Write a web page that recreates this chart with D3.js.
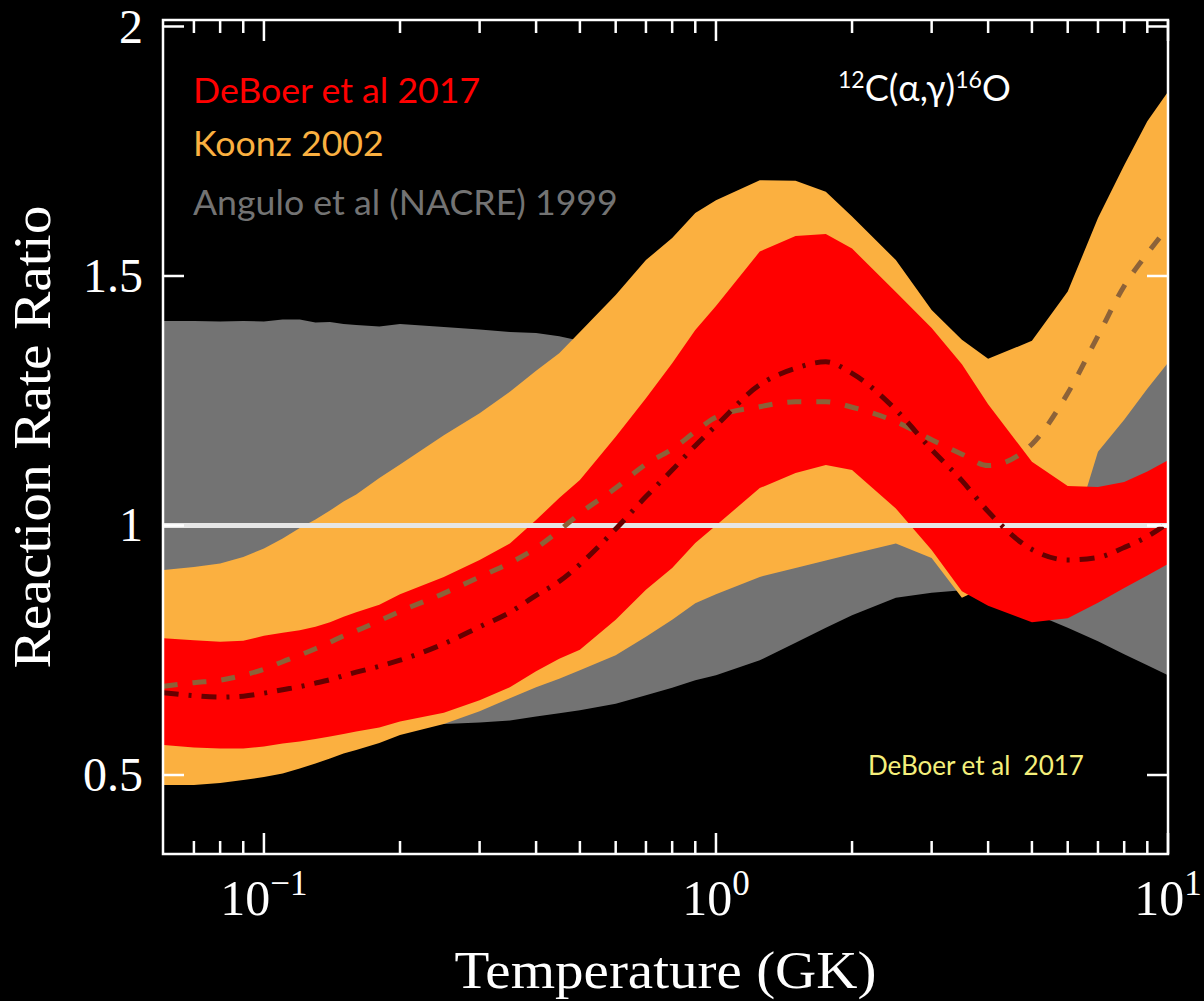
<!DOCTYPE html>
<html>
<head>
<meta charset="utf-8">
<script src="https://cdn.jsdelivr.net/npm/d3@7"></script>
<style>
  html, body { margin: 0; padding: 0; background: #000; }
  svg { display: block; }
</style>
</head>
<body>
<svg id="chart" width="1204" height="1001"></svg>
<script>
// Temperature grid (GK) on which the rate ratios are tabulated
const temperature = [0.06,0.07,0.08,0.09,0.1,0.11,0.12,0.13,0.14,0.15,0.16,0.18,0.2,0.25,0.3,0.35,0.4,0.45,0.5,0.6,0.7,0.8,0.9,1,1.25,1.5,1.75,2,2.5,3,3.5,4,5,6,7,8,9,10];

// DeBoer et al 2017: uncertainty band and recommended ratio
const deboerHigh = [0.774,0.770,0.767,0.769,0.779,0.785,0.790,0.797,0.806,0.817,0.826,0.841,0.862,0.897,0.931,0.964,1.011,1.055,1.091,1.178,1.255,1.325,1.392,1.440,1.549,1.580,1.584,1.555,1.468,1.396,1.323,1.243,1.128,1.079,1.077,1.087,1.108,1.131];
const deboerLow  = [0.560,0.555,0.553,0.553,0.557,0.563,0.567,0.572,0.577,0.582,0.587,0.595,0.607,0.625,0.650,0.676,0.708,0.733,0.751,0.811,0.871,0.915,0.965,1.000,1.075,1.105,1.121,1.111,1.034,0.951,0.868,0.839,0.806,0.814,0.845,0.875,0.900,0.923];
const deboerRec  = [0.665,0.659,0.656,0.658,0.664,0.671,0.677,0.684,0.691,0.699,0.706,0.718,0.730,0.763,0.797,0.826,0.860,0.888,0.922,0.993,1.058,1.111,1.160,1.200,1.282,1.315,1.328,1.305,1.232,1.152,1.090,1.028,0.952,0.931,0.936,0.956,0.978,1.005];

// Koonz 2002
const koonzHigh = [0.911,0.917,0.924,0.937,0.954,0.974,0.995,1.012,1.030,1.048,1.062,1.095,1.122,1.181,1.225,1.268,1.310,1.345,1.388,1.462,1.532,1.576,1.626,1.652,1.692,1.691,1.669,1.619,1.532,1.432,1.372,1.334,1.370,1.469,1.616,1.722,1.810,1.869];
const koonzLow  = [0.480,0.480,0.484,0.490,0.496,0.503,0.513,0.523,0.533,0.543,0.550,0.564,0.580,0.602,0.628,0.654,0.676,0.693,0.710,0.740,0.777,0.811,0.844,0.862,0.897,0.915,0.930,0.943,0.964,0.935,0.855,0.880,0.900,0.950,1.148,1.212,1.274,1.326];
const koonzRec  = [0.678,0.685,0.690,0.700,0.712,0.727,0.740,0.753,0.766,0.779,0.789,0.809,0.828,0.864,0.897,0.925,0.955,0.990,1.024,1.075,1.123,1.153,1.188,1.217,1.238,1.248,1.248,1.237,1.208,1.172,1.143,1.120,1.163,1.265,1.380,1.480,1.545,1.598];

// Angulo et al (NACRE) 1999
const nacreHigh = [1.410,1.410,1.409,1.410,1.409,1.413,1.413,1.407,1.408,1.404,1.402,1.399,1.404,1.398,1.393,1.388,1.386,1.379,1.370,1.340,1.310,1.280,1.250,1.230,1.200,1.180,1.170,1.160,1.120,1.080,1.050,1.050,1.080,1.150,1.250,1.320,1.380,1.420];
const nacreLow  = [0.595,0.595,0.595,0.595,0.595,0.595,0.595,0.595,0.595,0.595,0.595,0.597,0.600,0.602,0.605,0.609,0.617,0.624,0.630,0.643,0.660,0.675,0.690,0.700,0.730,0.765,0.795,0.820,0.855,0.865,0.870,0.855,0.825,0.795,0.768,0.742,0.720,0.700];

// Axis ticks
const yTicks = [0.5, 1, 1.5, 2];
const yTickLabels = ["0.5", "1", "1.5", "2"];
const xMajor = [0.1, 1, 10];
const xMajorExp = ["−1", "0", "1"];
const xMinor = [0.07,0.08,0.09,0.2,0.3,0.4,0.5,0.6,0.7,0.8,0.9,2,3,4,5,6,7,8,9];

const legendItems = ["DeBoer et al 2017", "Koonz 2002", "Angulo et al (NACRE) 1999"];

// ---------------------------------------------------------------------------
const C = { red: "#ff0000", orange: "#fbb040", gray: "#737373",
            brown: "#8c6239", maroon: "#660000", unity: "#e6e6e6" };
const serif = "'Liberation Serif', 'DejaVu Serif', serif";
const sans = "Lato, 'Open Sans', sans-serif";

const plot = { left: 163, right: 1168, top: 20, bottom: 854 };
const svg = d3.select("#chart");
svg.append("rect").attr("width", 1204).attr("height", 1001).attr("fill", "#000");

const x = d3.scaleLog().domain([0.0598, 10]).range([plot.left, plot.right]);
const y = d3.scaleLinear().domain([0.3417, 2.013]).range([plot.bottom, plot.top]);

svg.append("clipPath").attr("id", "plotClip")
  .append("rect").attr("x", plot.left).attr("y", plot.top)
  .attr("width", plot.right - plot.left).attr("height", plot.bottom - plot.top);

const g = svg.append("g").attr("clip-path", "url(#plotClip)");

function band(lo, hi) {
  return d3.area()
    .x((d, i) => x(temperature[i]))
    .y0((d, i) => y(lo[i]))
    .y1((d, i) => y(hi[i]))
    .curve(d3.curveLinear)(temperature);
}
function line(vals) {
  return d3.line()
    .x((d, i) => x(temperature[i]))
    .y((d, i) => y(vals[i]))
    .curve(d3.curveMonotoneX)(temperature);
}

g.append("path").attr("d", band(nacreLow, nacreHigh)).attr("fill", C.gray);
g.append("path").attr("d", band(koonzLow, koonzHigh)).attr("fill", C.orange);
g.append("path").attr("d", band(deboerLow, deboerHigh)).attr("fill", C.red);

// unity reference line
g.append("line")
  .attr("x1", plot.left).attr("x2", plot.right)
  .attr("y1", y(1)).attr("y2", y(1))
  .attr("stroke", C.unity).attr("stroke-width", 5);

g.append("path").attr("d", line(koonzRec)).attr("fill", "none")
  .attr("stroke", C.brown).attr("stroke-width", 5)
  .attr("stroke-dasharray", "14,15");
g.append("path").attr("d", line(deboerRec)).attr("fill", "none")
  .attr("stroke", C.maroon).attr("stroke-width", 5)
  .attr("stroke-dasharray", "15,10,3,10");

// Frame and ticks
const axG = svg.append("g").attr("stroke", "#fff").attr("stroke-width", 2.5);
function ticksX(vals, len) {
  vals.forEach(v => {
    axG.append("line").attr("x1", x(v)).attr("x2", x(v))
      .attr("y1", plot.bottom).attr("y2", plot.bottom - len);
    axG.append("line").attr("x1", x(v)).attr("x2", x(v))
      .attr("y1", plot.top).attr("y2", plot.top + len);
  });
}
ticksX(xMinor, 13);
ticksX(xMajor, 21);
yTicks.forEach(v => {
  axG.append("line").attr("x1", plot.left).attr("x2", plot.left + 21)
    .attr("y1", y(v)).attr("y2", y(v));
  axG.append("line").attr("x1", plot.right).attr("x2", plot.right - 21)
    .attr("y1", y(v)).attr("y2", y(v));
});
axG.append("rect").attr("x", plot.left).attr("y", plot.top)
  .attr("width", plot.right - plot.left).attr("height", plot.bottom - plot.top)
  .attr("fill", "none");

// Tick labels
yTicks.forEach((v, i) => {
  svg.append("text").attr("x", 143).attr("y", y(v) + 16)
    .attr("text-anchor", "end").attr("fill", "#fff")
    .style("font-family", serif).style("font-size", "48px")
    .text(yTickLabels[i]);
});
xMajor.forEach((v, i) => {
  const t = svg.append("text").attr("x", x(v)).attr("y", 915)
    .attr("text-anchor", "middle").attr("fill", "#fff")
    .style("font-family", serif).style("font-size", "50px");
  t.append("tspan").text("10");
  t.append("tspan").attr("dy", -20).style("font-size", "35px").text(xMajorExp[i]);
});

// Axis titles
svg.append("text").attr("x", (plot.left + plot.right) / 2).attr("y", 988)
  .attr("text-anchor", "middle").attr("fill", "#fff")
  .style("font-family", serif).style("font-size", "52px")
  .attr("textLength", 422).attr("lengthAdjust", "spacingAndGlyphs")
  .text("Temperature (GK)");
svg.append("text")
  .attr("transform", `translate(50,${(plot.top + plot.bottom) / 2}) rotate(-90)`)
  .attr("text-anchor", "middle").attr("fill", "#fff")
  .style("font-family", serif).style("font-size", "52px")
  .attr("textLength", 463).attr("lengthAdjust", "spacingAndGlyphs")
  .text("Reaction Rate Ratio");

// Legend
const legendColors = [C.red, C.orange, C.gray];
const legendY = [103, 156, 215];
legendItems.forEach((s, i) => {
  svg.append("text").attr("x", 193).attr("y", legendY[i])
    .attr("fill", legendColors[i])
    .style("font-family", sans).style("font-size", "35.7px")
    .text(s);
});

// Reaction label
const rx = svg.append("text").attr("x", 838).attr("y", 101).attr("fill", "#fff")
  .style("font-family", sans).style("font-size", "36px");
rx.append("tspan").attr("dy", -13).style("font-size", "23px").text("12");
rx.append("tspan").attr("dy", 13).text("C(α,γ)");
rx.append("tspan").attr("dy", -13).style("font-size", "23px").text("16");
rx.append("tspan").attr("dy", 13).text("O");

// Source note
svg.append("text").attr("x", 868).attr("y", 775).attr("fill", "#f5ef7b")
  .style("font-family", sans).style("font-size", "26px")
  .attr("xml:space", "preserve")
  .text("DeBoer et al  2017");
</script>
</body>
</html>
